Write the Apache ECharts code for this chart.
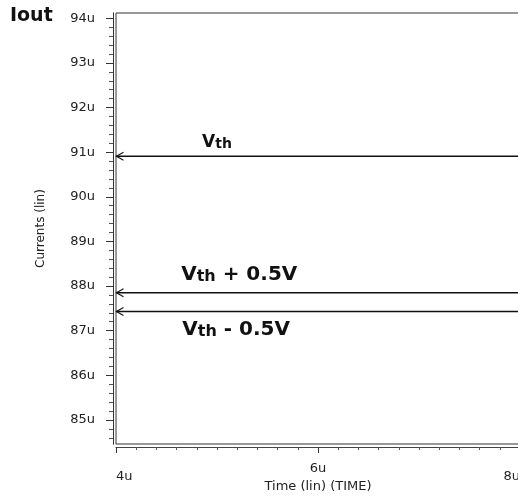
<!DOCTYPE html>
<html>
<head>
<meta charset="utf-8">
<script src="https://cdn.jsdelivr.net/npm/echarts@6/dist/echarts.min.js"></script>
<style>
html,body{margin:0;padding:0;background:#fff;}
#chart{width:518px;height:498px;}
</style>
</head>
<body>
<div id="chart"></div>
<script>
// ---- data ----
const timeRange = [4, 8];                 // x (u)
const xTicks = [4, 6, 8];
const yTicks = [85, 86, 87, 88, 89, 90, 91, 92, 93, 94];
const seriesNames = ['Vth', 'Vth + 0.5V', 'Vth - 0.5V'];
const vth = [90.91, 90.91];
const vthPlus = [87.85, 87.85];
const vthMinus = [87.43, 87.43];

const yMin = 84.46, yMax = 94.12;
const yMinor = [];
for (let i = Math.ceil(yMin * 5); i <= Math.floor(yMax * 5); i++) yMinor.push(i / 5);

const FONT = 'DejaVu Sans';
const INK = '#111';

function arrowHead(v) {
  return {
    value: [timeRange[0], v],
    symbol: 'path://M10,0 L0,5 L10,10',
    symbolSize: [7, 8],
    symbolOffset: [4, 0],
    itemStyle: { color: 'none', borderColor: INK, borderWidth: 1.2 }
  };
}
function lineData(vals) {
  return [arrowHead(vals[0]), { value: [timeRange[1], vals[1]], symbol: 'none' }];
}
function richLabel(big, small) {
  return {
    v: { fontFamily: FONT, fontWeight: 'bold', fontSize: big, color: INK, verticalAlign: 'bottom' },
    t: { fontFamily: FONT, fontWeight: 'bold', fontSize: small, color: INK, verticalAlign: 'bottom' },
    r: { fontFamily: FONT, fontWeight: 'bold', fontSize: big, color: INK, verticalAlign: 'bottom' }
  };
}

const chart = echarts.init(document.getElementById('chart'), null, { renderer: 'canvas' });

const grid = {
  left: 116, top: 13, width: 404, height: 431,
  outerBoundsMode: 'none', containLabel: false,
  show: true, borderColor: '#333', borderWidth: 1, backgroundColor: '#fff'
};

function lineSeries(name, vals, labelX, pos, dist, big, small) {
  const rest = name.slice(3);
  return {
    name: name,
    type: 'line',
    data: lineData(vals),
    showSymbol: true,
    symbol: 'none',
    lineStyle: { color: INK, width: 1.6 },
    itemStyle: { color: INK },
    animation: false,
    markPoint: {
      symbol: 'circle',
      symbolSize: 0,
      animation: false,
      data: [{ coord: [labelX, vals[0]] }],
      label: {
        show: true,
        position: pos,
        distance: dist,
        formatter: '{v|V}{t|th}' + (rest ? '{r|' + rest + '}' : ''),
        rich: richLabel(big, small)
      }
    }
  };
}

const option = {
  animation: false,
  backgroundColor: '#fff',
  title: {
    text: 'Iout',
    left: 5, top: 2,
    textStyle: { fontFamily: FONT, fontWeight: 'bold', fontSize: 19, color: INK }
  },
  grid: grid,
  xAxis: {
    type: 'value',
    min: timeRange[0], max: timeRange[1], interval: 2,
    offset: 3,
    name: 'Time (lin) (TIME)',
    nameLocation: 'middle',
    nameGap: 33,
    nameMoveOverlap: false,
    nameTextStyle: { fontFamily: FONT, fontSize: 13, color: '#222' },
    axisLine: { show: true, onZero: false, lineStyle: { color: '#444', width: 1 } },
    axisTick: { show: true, length: 6, lineStyle: { color: '#333' } },
    minorTick: { show: true, splitNumber: 10, length: 3, lineStyle: { color: '#555' } },
    splitLine: { show: false },
    axisLabel: {
      margin: 15,
      alignMinLabel: 'left',
      alignMaxLabel: 'right',
      fontFamily: FONT, fontSize: 13, color: '#222',
      formatter: function (v) { return v === 6 ? '{m|6u}' : '{l|' + v + 'u}'; },
      rich: {
        m: { fontFamily: FONT, fontSize: 13, color: '#222' },
        l: { fontFamily: FONT, fontSize: 13, color: '#222', padding: [8, 0, 0, 0] }
      }
    }
  },
  yAxis: [
    {
      type: 'value', min: yMin, max: yMax, position: 'left', offset: 3,
      axisLine: { show: true, lineStyle: { color: '#333' } },
      axisTick: { show: true, length: 4, customValues: yMinor, lineStyle: { color: '#555' } },
      axisLabel: { show: false },
      splitLine: { show: false }
    },
    {
      type: 'value', min: yMin, max: yMax, position: 'left', offset: 3,
      name: 'Currents (lin)',
      nameLocation: 'middle',
      nameGap: 66,
      nameMoveOverlap: false,
      nameTextStyle: { fontFamily: FONT, fontSize: 12, color: '#222' },
      axisLine: { show: true, lineStyle: { color: '#333' } },
      axisTick: { show: true, length: 7, customValues: yTicks, lineStyle: { color: '#333' } },
      axisLabel: {
        customValues: yTicks,
        margin: 18,
        fontFamily: FONT, fontSize: 13, color: '#222',
        formatter: function (v) { return v + 'u'; }
      },
      splitLine: { show: false }
    }
  ],
  series: [
    lineSeries(seriesNames[0], vth, 5.0, 'top', 5, 17, 14),
    lineSeries(seriesNames[1], vthPlus, 5.22, 'top', 8, 20, 16),
    lineSeries(seriesNames[2], vthMinus, 5.19, 'bottom', 8, 20, 16)
  ]
};
chart.setOption(option);
</script>
</body>
</html>
